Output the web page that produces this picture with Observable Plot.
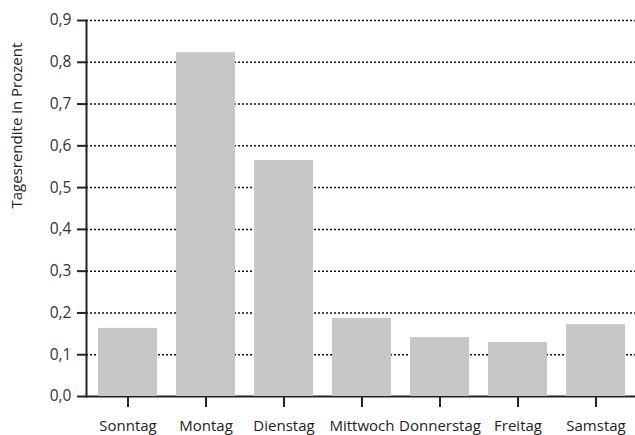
<!DOCTYPE html>
<html>
<head>
<meta charset="utf-8">
<script src="https://cdn.jsdelivr.net/npm/d3@7"></script>
<script src="https://cdn.jsdelivr.net/npm/@observablehq/plot@0.6"></script>
<style>
  html, body { margin: 0; padding: 0; background: #fff; }
  #chart svg { display: block; }
</style>
</head>
<body>
<div id="chart"></div>
<script>
const days = ["Sonntag", "Montag", "Dienstag", "Mittwoch", "Donnerstag", "Freitag", "Samstag"];
const returns = [0.163, 0.823, 0.565, 0.187, 0.141, 0.129, 0.172];
const yTicks = [0, 0.1, 0.2, 0.3, 0.4, 0.5, 0.6, 0.7, 0.8, 0.9];
const yLabel = "Tagesrendite in Prozent";

const data = days.map((d, i) => ({day: d, value: returns[i]}));
const fmt = v => v.toFixed(1).replace(".", ",");
const font = "'Open Sans', 'Noto Sans', sans-serif";

const chart = Plot.plot({
  width: 635,
  height: 435,
  marginLeft: 86,
  marginRight: 0,
  marginTop: 20,
  marginBottom: 39,
  style: {fontFamily: font, color: "#222", background: "#fff"},
  x: {domain: days, range: [87, 637], paddingInner: 0.24, paddingOuter: 0.12, label: null},
  y: {domain: [0, 0.9], label: null},
  marks: [
    Plot.ruleY(yTicks.filter(t => t > 0), {stroke: "#111", strokeWidth: 1.5, strokeDasharray: "2,2"}),
    Plot.ruleY([0], {stroke: "#222", strokeWidth: 2}),
    Plot.barY(data, {x: "day", y: "value", fill: "#c6c7c9"}),
    Plot.frame({anchor: "left", stroke: "#222", strokeWidth: 2}),
    Plot.axisY({ticks: yTicks, tickFormat: fmt, tickSize: 9, tickPadding: 6, strokeWidth: 2, stroke: "#222",
      label: null, fontSize: 15.5, fill: "#333"}),
    Plot.axisX({tickSize: 11, tickPadding: 13, strokeWidth: 2, stroke: "#222", fontSize: 15, fill: "#222"}),
    Plot.text([yLabel], {frameAnchor: "left", rotate: -90, dx: -69, fontSize: 15, fill: "#222"})
  ]
});
document.getElementById("chart").appendChild(chart);
</script>
</body>
</html>
